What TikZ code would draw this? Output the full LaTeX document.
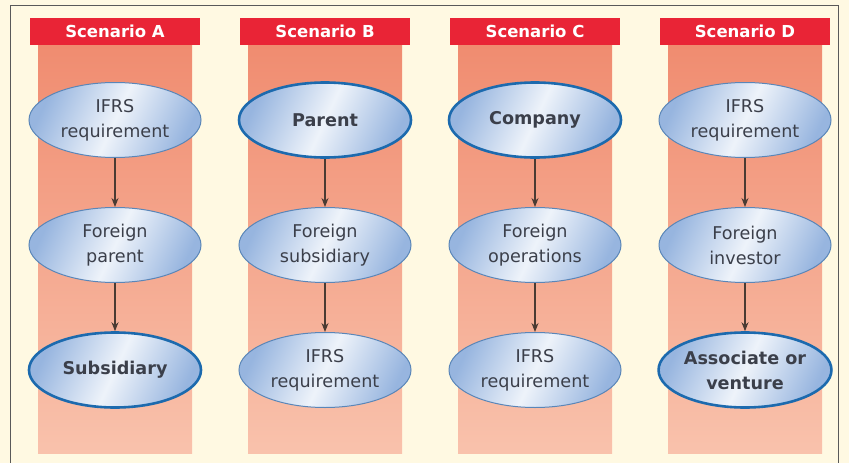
\documentclass[tikz,border=0pt]{standalone}
\usepackage{fontspec}
\setmainfont{DejaVu Sans}
\usetikzlibrary{shapes.geometric,arrows.meta}
\definecolor{paper}{HTML}{FFF9E2}
\definecolor{headred}{HTML}{E92436}
\definecolor{striptop}{HTML}{F08C70}
\definecolor{stripbot}{HTML}{F9C2AC}
\definecolor{elledge}{HTML}{97B5DF}
\definecolor{ellmid}{HTML}{EEF3FA}
\definecolor{thinblue}{HTML}{5A86B8}
\definecolor{thickblue}{HTML}{1C6AAE}
\definecolor{inkgrey}{HTML}{3B3F4A}
\definecolor{arrowbrown}{HTML}{4A3B33}
\tikzset{
	heading/.style={fill=headred, text=white, font=\fontsize{16.5}{20}\selectfont\bfseries,
		minimum width=170pt, minimum height=27pt, inner sep=0pt},
	strip/.style={top color=striptop, bottom color=stripbot, draw=none},
	bubble/.style={ellipse, draw=thinblue, line width=1pt,
		left color=elledge, right color=elledge, middle color=ellmid, shading angle=65,
		minimum width=172pt, minimum height=75pt, inner sep=0pt,
		text=inkgrey, align=center, font=\fontsize{17.6}{25}\selectfont},
	mainbubble/.style={bubble, draw=thickblue, line width=2.6pt, font=\fontsize{17.6}{25}\selectfont\bfseries},
	flow/.style={draw=arrowbrown, line width=1.1pt, -{Stealth[length=9pt,width=7pt]}}
}
\begin{document}
\begin{tikzpicture}[x=1pt,y=-1pt]
		%Background and frame
		\useasboundingbox (0,0) rectangle (849,463);
		\fill[paper] (0,0) rectangle (849,463);
		\draw[gray!70!black, line width=1pt] (10,5) rectangle (838,470);
		%Column strips
		\foreach \cx in {115,325,535,745} {
			\shade[strip] (\cx-77,45) rectangle (\cx+77,453);
		}
		%Headings
		\node[heading] (headA) at (115,31.5) {Scenario A};
		\node[heading] (headB) at (325,31.5) {Scenario B};
		\node[heading] (headC) at (535,31.5) {Scenario C};
		\node[heading] (headD) at (745,31.5) {Scenario D};
		%Scenario A
		\node[bubble] (a1) at (115,120) {IFRS\\requirement};
		\node[bubble] (a2) at (115,245) {Foreign\\parent};
		\node[mainbubble] (a3) at (115,370) {Subsidiary};
		\draw[flow] (a1) -- (a2);
		\draw[flow] (a2) -- (a3);
		%Scenario B
		\node[mainbubble] (b1) at (325,120) {Parent};
		\node[bubble] (b2) at (325,245) {Foreign\\subsidiary};
		\node[bubble] (b3) at (325,370) {IFRS\\requirement};
		\draw[flow] (b1) -- (b2);
		\draw[flow] (b2) -- (b3);
		%Scenario C
		\node[mainbubble] (c1) at (535,120) {Company};
		\node[bubble] (c2) at (535,245) {Foreign\\operations};
		\node[bubble] (c3) at (535,370) {IFRS\\requirement};
		\draw[flow] (c1) -- (c2);
		\draw[flow] (c2) -- (c3);
		%Scenario D
		\node[bubble] (d1) at (745,120) {IFRS\\requirement};
		\node[bubble] (d2) at (745,245) {Foreign\\investor};
		\node[mainbubble] (d3) at (745,370) {Associate or\\venture};
		\draw[flow] (d1) -- (d2);
		\draw[flow] (d2) -- (d3);
\end{tikzpicture}
\end{document}
